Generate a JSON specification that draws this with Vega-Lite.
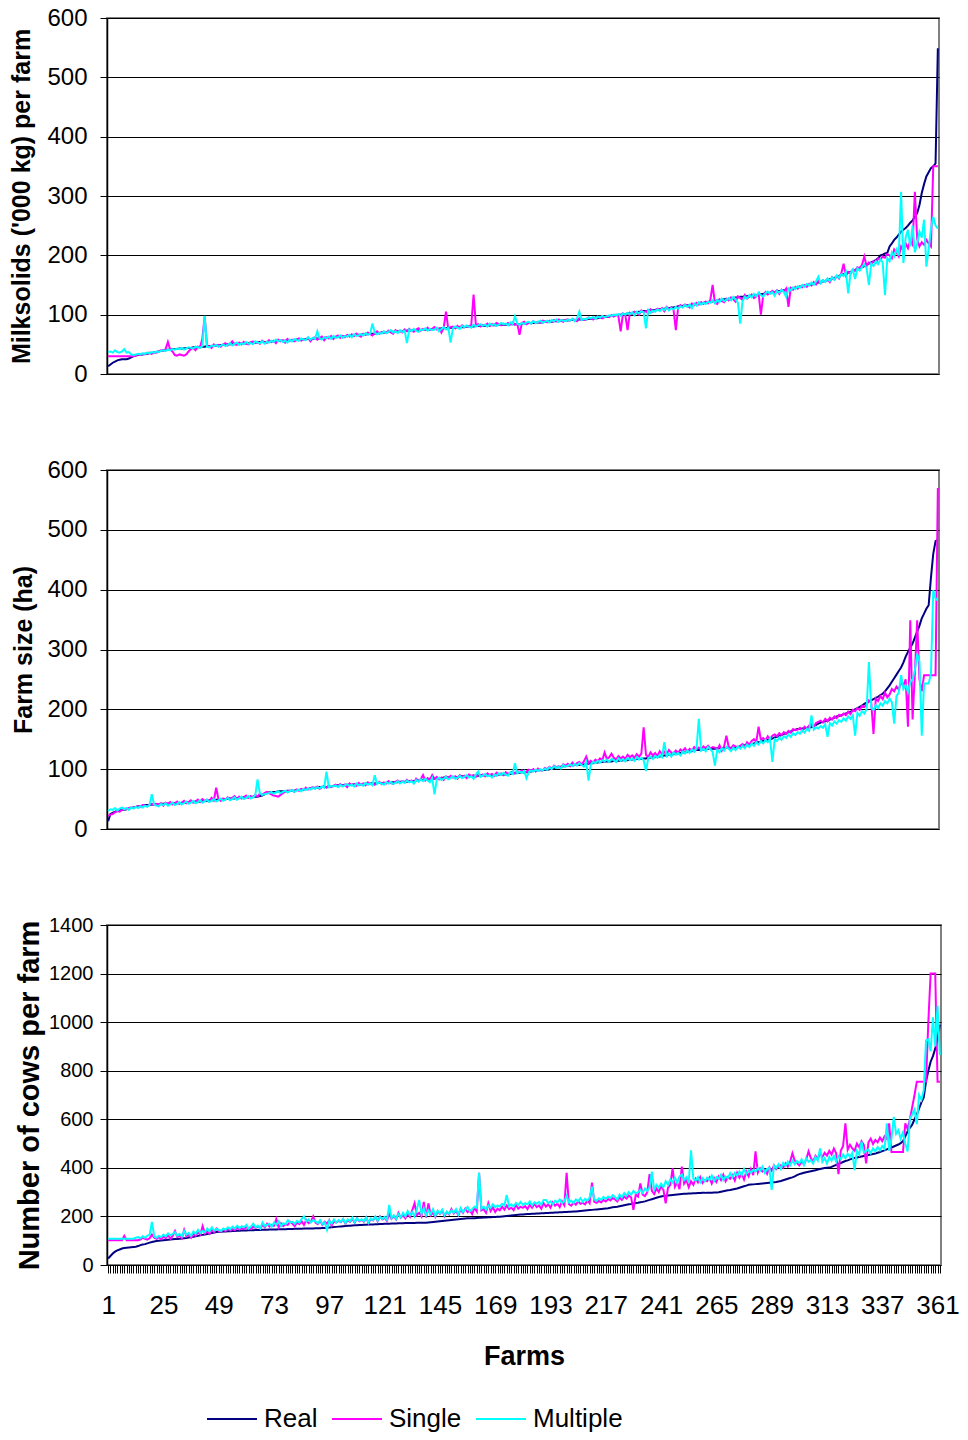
{
"$schema": "https://vega.github.io/schema/vega-lite/v6.json",
"background": "white",
"padding": {"left": 8, "top": 5, "right": 10, "bottom": 5},
"spacing": 96,
"bounds": "flush",
"config": {
 "font": "Liberation Sans",
 "view": {"stroke": "#808080", "strokeWidth": 2},
 "axis": {"labelFont": "Liberation Sans", "titleFont": "Liberation Sans", "labelColor": "#000", "titleColor": "#000", "titleFontWeight": "bold", "domainColor": "#000", "domainWidth": 1.5, "tickColor": "#000", "gridColor": "#000", "gridWidth": 1, "gridOpacity": 1}
},
"resolve": {"scale": {"x": "independent", "y": "independent", "color": "independent"}, "legend": {"color": "independent"}},
"data": {"values": [
{"f":1,"a":13,"b":30,"c":37,"d":13,"e":22,"g":30,"h":27,"i":102,"j":108},
{"f":2,"a":16,"b":30,"c":38,"d":25,"e":24,"g":33,"h":37,"i":102,"j":108},
{"f":3,"a":19,"b":30,"c":36,"d":27,"e":25,"g":32,"h":47,"i":102,"j":108},
{"f":4,"a":21,"b":30,"c":40,"d":29,"e":28,"g":35,"h":55,"i":102,"j":108},
{"f":5,"a":23,"b":30,"c":37,"d":30,"e":30,"g":31,"h":60,"i":102,"j":108},
{"f":6,"a":24,"b":30,"c":36,"d":31,"e":29,"g":34,"h":64,"i":102,"j":108},
{"f":7,"a":25,"b":30,"c":38,"d":32,"e":32,"g":36,"h":68,"i":102,"j":108},
{"f":8,"a":25,"b":30,"c":42,"d":32,"e":34,"g":33,"h":70,"i":120,"j":108},
{"f":9,"a":25,"b":30,"c":36,"d":33,"e":33,"g":35,"h":71,"i":102,"j":108},
{"f":10,"a":26,"b":30,"c":37,"d":34,"e":35,"g":32,"h":72,"i":102,"j":108},
{"f":11,"a":28,"b":30,"c":33,"d":35,"e":36,"g":36,"h":73,"i":102,"j":108},
{"f":12,"a":30,"b":30,"c":32,"d":36,"e":35,"g":34,"h":74,"i":102,"j":108},
{"f":13,"a":31,"b":31,"c":33,"d":37,"e":37,"g":37,"h":75,"i":102,"j":112},
{"f":14,"a":32,"b":33,"c":34,"d":38,"e":38,"g":35,"h":78,"i":102,"j":115},
{"f":15,"a":33,"b":32,"c":33,"d":38,"e":37,"g":38,"h":82,"i":105,"j":110},
{"f":16,"a":33,"b":34,"c":35,"d":39,"e":40,"g":36,"h":84,"i":112,"j":118},
{"f":17,"a":34,"b":33,"c":34,"d":40,"e":39,"g":39,"h":86,"i":108,"j":112},
{"f":18,"a":34,"b":35,"c":36,"d":40,"e":38,"g":37,"h":89,"i":104,"j":120},
{"f":19,"a":35,"b":36,"c":35,"d":40,"e":41,"g":40,"h":92,"i":110,"j":125},
{"f":20,"a":35,"b":34,"c":37,"d":41,"e":42,"g":58,"h":95,"i":125,"j":177},
{"f":21,"a":36,"b":37,"c":36,"d":41,"e":40,"g":41,"h":97,"i":112,"j":118},
{"f":22,"a":37,"b":36,"c":38,"d":41,"e":42,"g":39,"h":99,"i":108,"j":112},
{"f":23,"a":38,"b":38,"c":37,"d":41,"e":41,"g":38,"h":100,"i":115,"j":120},
{"f":24,"a":39,"b":40,"c":39,"d":42,"e":43,"g":42,"h":101,"i":106,"j":115},
{"f":25,"a":40,"b":39,"c":40,"d":42,"e":39,"g":40,"h":102,"i":118,"j":125},
{"f":26,"a":40,"b":42,"c":39,"d":42,"e":44,"g":43,"h":103,"i":110,"j":118},
{"f":27,"a":41,"b":54,"c":41,"d":42,"e":42,"g":39,"h":104,"i":125,"j":130},
{"f":28,"a":41,"b":41,"c":40,"d":42,"e":45,"g":41,"h":105,"i":108,"j":122},
{"f":29,"a":42,"b":38,"c":42,"d":43,"e":41,"g":44,"h":106,"i":120,"j":128},
{"f":30,"a":42,"b":32,"c":41,"d":43,"e":43,"g":40,"h":107,"i":140,"j":135},
{"f":31,"a":42,"b":31,"c":43,"d":43,"e":46,"g":42,"h":107,"i":115,"j":120},
{"f":32,"a":43,"b":33,"c":42,"d":43,"e":42,"g":45,"h":108,"i":122,"j":128},
{"f":33,"a":43,"b":32,"c":44,"d":44,"e":44,"g":41,"h":109,"i":110,"j":118},
{"f":34,"a":43,"b":31,"c":41,"d":44,"e":47,"g":43,"h":110,"i":145,"j":140},
{"f":35,"a":44,"b":33,"c":43,"d":44,"e":43,"g":46,"h":111,"i":118,"j":125},
{"f":36,"a":44,"b":38,"c":45,"d":45,"e":45,"g":42,"h":113,"i":125,"j":132},
{"f":37,"a":44,"b":42,"c":44,"d":45,"e":48,"g":44,"h":115,"i":112,"j":120},
{"f":38,"a":45,"b":44,"c":43,"d":45,"e":44,"g":47,"h":116,"i":128,"j":138},
{"f":39,"a":45,"b":40,"c":46,"d":46,"e":46,"g":43,"h":118,"i":120,"j":128},
{"f":40,"a":45,"b":46,"c":45,"d":46,"e":49,"g":45,"h":120,"i":135,"j":145},
{"f":41,"a":46,"b":45,"c":44,"d":46,"e":45,"g":48,"h":122,"i":125,"j":132},
{"f":42,"a":46,"b":60,"c":47,"d":47,"e":50,"g":44,"h":124,"i":160,"j":140},
{"f":43,"a":46,"b":97,"c":98,"d":47,"e":47,"g":46,"h":126,"i":130,"j":135},
{"f":44,"a":47,"b":48,"c":46,"d":47,"e":49,"g":49,"h":128,"i":138,"j":150},
{"f":45,"a":47,"b":46,"c":45,"d":48,"e":46,"g":45,"h":130,"i":128,"j":138},
{"f":46,"a":47,"b":44,"c":48,"d":48,"e":52,"g":47,"h":132,"i":145,"j":155},
{"f":47,"a":48,"b":50,"c":47,"d":48,"e":48,"g":50,"h":134,"i":135,"j":142},
{"f":48,"a":48,"b":47,"c":49,"d":49,"e":69,"g":46,"h":136,"i":150,"j":148},
{"f":49,"a":48,"b":49,"c":46,"d":49,"e":50,"g":48,"h":137,"i":140,"j":145},
{"f":50,"a":49,"b":46,"c":48,"d":49,"e":47,"g":51,"h":137,"i":138,"j":140},
{"f":51,"a":49,"b":50,"c":50,"d":50,"e":51,"g":47,"h":138,"i":145,"j":150},
{"f":52,"a":49,"b":52,"c":47,"d":50,"e":49,"g":49,"h":138,"i":140,"j":145},
{"f":53,"a":50,"b":48,"c":49,"d":50,"e":53,"g":52,"h":139,"i":150,"j":155},
{"f":54,"a":50,"b":51,"c":52,"d":51,"e":50,"g":48,"h":139,"i":142,"j":148},
{"f":55,"a":50,"b":55,"c":48,"d":51,"e":52,"g":50,"h":140,"i":148,"j":158},
{"f":56,"a":51,"b":50,"c":51,"d":51,"e":55,"g":53,"h":140,"i":143,"j":150},
{"f":57,"a":51,"b":49,"c":53,"d":52,"e":50,"g":49,"h":141,"i":155,"j":162},
{"f":58,"a":51,"b":53,"c":49,"d":52,"e":54,"g":51,"h":141,"i":146,"j":152},
{"f":59,"a":52,"b":50,"c":52,"d":52,"e":51,"g":54,"h":142,"i":152,"j":160},
{"f":60,"a":52,"b":54,"c":50,"d":53,"e":53,"g":50,"h":142,"i":148,"j":155},
{"f":61,"a":52,"b":51,"c":54,"d":53,"e":56,"g":52,"h":142,"i":156,"j":165},
{"f":62,"a":52,"b":50,"c":51,"d":53,"e":52,"g":55,"h":143,"i":150,"j":150},
{"f":63,"a":53,"b":53,"c":52,"d":54,"e":55,"g":51,"h":143,"i":148,"j":158},
{"f":64,"a":53,"b":55,"c":50,"d":54,"e":53,"g":53,"h":143,"i":158,"j":170},
{"f":65,"a":53,"b":52,"c":55,"d":54,"e":57,"g":56,"h":144,"i":152,"j":155},
{"f":66,"a":53,"b":54,"c":53,"d":54,"e":54,"g":83,"h":144,"i":160,"j":162},
{"f":67,"a":54,"b":51,"c":52,"d":55,"e":59,"g":60,"h":144,"i":150,"j":150},
{"f":68,"a":54,"b":56,"c":55,"d":56,"e":57,"g":57,"h":145,"i":165,"j":175},
{"f":69,"a":54,"b":53,"c":51,"d":58,"e":60,"g":58,"h":145,"i":155,"j":160},
{"f":70,"a":54,"b":52,"c":54,"d":61,"e":62,"g":59,"h":145,"i":170,"j":165},
{"f":71,"a":55,"b":57,"c":53,"d":61,"e":60,"g":60,"h":146,"i":158,"j":170},
{"f":72,"a":55,"b":54,"c":56,"d":62,"e":58,"g":62,"h":146,"i":165,"j":158},
{"f":73,"a":55,"b":56,"c":54,"d":62,"e":56,"g":59,"h":146,"i":162,"j":175},
{"f":74,"a":55,"b":52,"c":58,"d":62,"e":55,"g":61,"h":146,"i":190,"j":165},
{"f":75,"a":56,"b":58,"c":55,"d":63,"e":54,"g":63,"h":147,"i":155,"j":180},
{"f":76,"a":56,"b":55,"c":57,"d":63,"e":57,"g":60,"h":147,"i":172,"j":160},
{"f":77,"a":56,"b":57,"c":54,"d":63,"e":60,"g":62,"h":147,"i":160,"j":172},
{"f":78,"a":56,"b":53,"c":56,"d":63,"e":62,"g":64,"h":147,"i":168,"j":168},
{"f":79,"a":57,"b":59,"c":53,"d":64,"e":64,"g":61,"h":148,"i":165,"j":185},
{"f":80,"a":57,"b":56,"c":58,"d":64,"e":63,"g":63,"h":148,"i":178,"j":175},
{"f":81,"a":57,"b":58,"c":55,"d":64,"e":65,"g":65,"h":148,"i":170,"j":178},
{"f":82,"a":57,"b":55,"c":59,"d":64,"e":62,"g":62,"h":149,"i":160,"j":170},
{"f":83,"a":58,"b":57,"c":57,"d":65,"e":66,"g":64,"h":149,"i":175,"j":182},
{"f":84,"a":58,"b":60,"c":56,"d":65,"e":64,"g":66,"h":149,"i":168,"j":175},
{"f":85,"a":58,"b":56,"c":60,"d":66,"e":67,"g":63,"h":149,"i":180,"j":190},
{"f":86,"a":58,"b":59,"c":58,"d":66,"e":65,"g":67,"h":150,"i":165,"j":200},
{"f":87,"a":59,"b":58,"c":57,"d":67,"e":69,"g":65,"h":150,"i":185,"j":180},
{"f":88,"a":59,"b":61,"c":62,"d":67,"e":66,"g":68,"h":150,"i":172,"j":188},
{"f":89,"a":59,"b":55,"c":58,"d":68,"e":68,"g":66,"h":150,"i":178,"j":175},
{"f":90,"a":59,"b":60,"c":61,"d":68,"e":70,"g":69,"h":150,"i":200,"j":185},
{"f":91,"a":60,"b":62,"c":59,"d":69,"e":68,"g":67,"h":151,"i":175,"j":180},
{"f":92,"a":60,"b":58,"c":72,"d":69,"e":71,"g":70,"h":151,"i":168,"j":172},
{"f":93,"a":60,"b":61,"c":60,"d":70,"e":67,"g":68,"h":151,"i":182,"j":185},
{"f":94,"a":60,"b":63,"c":58,"d":70,"e":70,"g":71,"h":152,"i":165,"j":168},
{"f":95,"a":61,"b":57,"c":62,"d":70,"e":72,"g":69,"h":152,"i":178,"j":175},
{"f":96,"a":61,"b":62,"c":60,"d":70,"e":69,"g":96,"h":153,"i":170,"j":145},
{"f":97,"a":61,"b":60,"c":63,"d":71,"e":73,"g":70,"h":154,"i":185,"j":182},
{"f":98,"a":62,"b":64,"c":59,"d":71,"e":70,"g":72,"h":155,"i":162,"j":170},
{"f":99,"a":62,"b":59,"c":64,"d":72,"e":72,"g":71,"h":156,"i":180,"j":188},
{"f":100,"a":62,"b":63,"c":61,"d":73,"e":74,"g":73,"h":157,"i":175,"j":175},
{"f":101,"a":63,"b":65,"c":62,"d":73,"e":71,"g":70,"h":158,"i":182,"j":185},
{"f":102,"a":63,"b":61,"c":65,"d":73,"e":75,"g":74,"h":159,"i":176,"j":178},
{"f":103,"a":63,"b":64,"c":61,"d":73,"e":72,"g":71,"h":160,"i":188,"j":190},
{"f":104,"a":64,"b":62,"c":64,"d":74,"e":74,"g":73,"h":161,"i":170,"j":172},
{"f":105,"a":64,"b":66,"c":63,"d":74,"e":70,"g":75,"h":162,"i":185,"j":188},
{"f":106,"a":64,"b":63,"c":66,"d":74,"e":76,"g":72,"h":162,"i":178,"j":180},
{"f":107,"a":65,"b":67,"c":62,"d":74,"e":73,"g":74,"h":163,"i":190,"j":195},
{"f":108,"a":65,"b":64,"c":67,"d":75,"e":75,"g":71,"h":164,"i":174,"j":176},
{"f":109,"a":66,"b":68,"c":64,"d":75,"e":72,"g":76,"h":164,"i":192,"j":192},
{"f":110,"a":66,"b":65,"c":65,"d":75,"e":77,"g":73,"h":165,"i":180,"j":182},
{"f":111,"a":66,"b":63,"c":67,"d":75,"e":74,"g":75,"h":165,"i":186,"j":188},
{"f":112,"a":67,"b":68,"c":65,"d":75,"e":76,"g":72,"h":166,"i":178,"j":180},
{"f":113,"a":67,"b":66,"c":69,"d":76,"e":73,"g":77,"h":166,"i":195,"j":196},
{"f":114,"a":67,"b":70,"c":66,"d":76,"e":78,"g":74,"h":167,"i":172,"j":175},
{"f":115,"a":68,"b":67,"c":68,"d":76,"e":75,"g":76,"h":167,"i":190,"j":192},
{"f":116,"a":68,"b":65,"c":85,"d":76,"e":77,"g":73,"h":167,"i":184,"j":185},
{"f":117,"a":68,"b":69,"c":70,"d":76,"e":74,"g":90,"h":168,"i":198,"j":200},
{"f":118,"a":69,"b":72,"c":67,"d":77,"e":76,"g":75,"h":168,"i":180,"j":182},
{"f":119,"a":69,"b":68,"c":69,"d":77,"e":79,"g":78,"h":169,"i":200,"j":198},
{"f":120,"a":70,"b":70,"c":68,"d":77,"e":75,"g":76,"h":169,"i":188,"j":190},
{"f":121,"a":70,"b":71,"c":72,"d":77,"e":78,"g":74,"h":170,"i":195,"j":198},
{"f":122,"a":70,"b":69,"c":69,"d":77,"e":76,"g":78,"h":170,"i":182,"j":186},
{"f":123,"a":71,"b":73,"c":71,"d":78,"e":80,"g":76,"h":170,"i":210,"j":247},
{"f":124,"a":71,"b":70,"c":74,"d":78,"e":77,"g":79,"h":171,"i":190,"j":192},
{"f":125,"a":71,"b":68,"c":70,"d":78,"e":75,"g":75,"h":171,"i":200,"j":205},
{"f":126,"a":72,"b":74,"c":72,"d":78,"e":79,"g":77,"h":171,"i":188,"j":190},
{"f":127,"a":72,"b":71,"c":69,"d":78,"e":81,"g":80,"h":172,"i":215,"j":210},
{"f":128,"a":72,"b":73,"c":74,"d":79,"e":77,"g":76,"h":172,"i":195,"j":196},
{"f":129,"a":72,"b":70,"c":71,"d":79,"e":80,"g":79,"h":172,"i":205,"j":215},
{"f":130,"a":73,"b":75,"c":73,"d":79,"e":78,"g":77,"h":173,"i":192,"j":200},
{"f":131,"a":73,"b":72,"c":52,"d":79,"e":82,"g":81,"h":173,"i":210,"j":222},
{"f":132,"a":73,"b":76,"c":75,"d":80,"e":79,"g":78,"h":173,"i":198,"j":205},
{"f":133,"a":73,"b":73,"c":72,"d":80,"e":81,"g":80,"h":173,"i":225,"j":218},
{"f":134,"a":74,"b":71,"c":76,"d":80,"e":77,"g":76,"h":173,"i":254,"j":200},
{"f":135,"a":74,"b":75,"c":73,"d":81,"e":84,"g":82,"h":174,"i":205,"j":230},
{"f":136,"a":74,"b":77,"c":71,"d":81,"e":80,"g":79,"h":174,"i":215,"j":268},
{"f":137,"a":74,"b":73,"c":75,"d":82,"e":83,"g":83,"h":174,"i":200,"j":210},
{"f":138,"a":75,"b":76,"c":74,"d":82,"e":90,"g":80,"h":174,"i":260,"j":235},
{"f":139,"a":75,"b":74,"c":77,"d":83,"e":81,"g":84,"h":174,"i":195,"j":205},
{"f":140,"a":75,"b":78,"c":73,"d":83,"e":85,"g":81,"h":175,"i":254,"j":225},
{"f":141,"a":75,"b":74,"c":76,"d":84,"e":82,"g":78,"h":176,"i":205,"j":210},
{"f":142,"a":76,"b":76,"c":74,"d":84,"e":90,"g":85,"h":177,"i":215,"j":230},
{"f":143,"a":76,"b":79,"c":75,"d":84,"e":84,"g":58,"h":178,"i":198,"j":202},
{"f":144,"a":76,"b":75,"c":78,"d":85,"e":87,"g":83,"h":179,"i":220,"j":224},
{"f":145,"a":76,"b":77,"c":72,"d":85,"e":83,"g":86,"h":180,"i":210,"j":212},
{"f":146,"a":77,"b":70,"c":76,"d":85,"e":86,"g":82,"h":181,"i":225,"j":228},
{"f":147,"a":77,"b":78,"c":79,"d":86,"e":82,"g":84,"h":182,"i":200,"j":205},
{"f":148,"a":77,"b":105,"c":75,"d":86,"e":88,"g":87,"h":183,"i":218,"j":220},
{"f":149,"a":78,"b":76,"c":78,"d":86,"e":85,"g":83,"h":184,"i":208,"j":210},
{"f":150,"a":78,"b":79,"c":53,"d":87,"e":89,"g":85,"h":185,"i":230,"j":225},
{"f":151,"a":78,"b":80,"c":77,"d":87,"e":86,"g":88,"h":186,"i":212,"j":215},
{"f":152,"a":78,"b":77,"c":80,"d":87,"e":88,"g":84,"h":187,"i":222,"j":230},
{"f":153,"a":79,"b":81,"c":78,"d":87,"e":84,"g":86,"h":188,"i":205,"j":208},
{"f":154,"a":79,"b":78,"c":76,"d":88,"e":90,"g":89,"h":189,"i":228,"j":235},
{"f":155,"a":79,"b":82,"c":81,"d":88,"e":87,"g":85,"h":190,"i":215,"j":218},
{"f":156,"a":79,"b":79,"c":79,"d":88,"e":89,"g":87,"h":191,"i":232,"j":228},
{"f":157,"a":80,"b":81,"c":82,"d":88,"e":85,"g":90,"h":192,"i":218,"j":239},
{"f":158,"a":80,"b":80,"c":80,"d":89,"e":91,"g":86,"h":192,"i":225,"j":222},
{"f":159,"a":80,"b":83,"c":78,"d":89,"e":88,"g":88,"h":193,"i":210,"j":230},
{"f":160,"a":80,"b":134,"c":83,"d":89,"e":90,"g":84,"h":193,"i":235,"j":240},
{"f":161,"a":81,"b":82,"c":80,"d":89,"e":87,"g":91,"h":194,"i":220,"j":235},
{"f":162,"a":81,"b":84,"c":82,"d":89,"e":92,"g":96,"h":195,"i":380,"j":380},
{"f":163,"a":81,"b":80,"c":84,"d":90,"e":89,"g":87,"h":195,"i":225,"j":232},
{"f":164,"a":81,"b":83,"c":81,"d":90,"e":91,"g":89,"h":196,"i":230,"j":240},
{"f":165,"a":81,"b":82,"c":83,"d":90,"e":88,"g":92,"h":196,"i":215,"j":228},
{"f":166,"a":82,"b":85,"c":80,"d":90,"e":93,"g":88,"h":197,"i":254,"j":245},
{"f":167,"a":82,"b":81,"c":85,"d":90,"e":90,"g":90,"h":197,"i":222,"j":235},
{"f":168,"a":82,"b":84,"c":82,"d":90,"e":92,"g":86,"h":198,"i":238,"j":250},
{"f":169,"a":82,"b":83,"c":84,"d":90,"e":89,"g":91,"h":198,"i":218,"j":238},
{"f":170,"a":82,"b":86,"c":81,"d":90,"e":94,"g":89,"h":199,"i":232,"j":245},
{"f":171,"a":83,"b":84,"c":83,"d":91,"e":91,"g":93,"h":199,"i":225,"j":240},
{"f":172,"a":83,"b":82,"c":86,"d":91,"e":93,"g":90,"h":200,"i":240,"j":252},
{"f":173,"a":83,"b":85,"c":84,"d":91,"e":90,"g":94,"h":201,"i":228,"j":245},
{"f":174,"a":83,"b":83,"c":85,"d":91,"e":95,"g":91,"h":202,"i":245,"j":288},
{"f":175,"a":83,"b":86,"c":82,"d":92,"e":92,"g":89,"h":203,"i":230,"j":242},
{"f":176,"a":84,"b":84,"c":87,"d":92,"e":94,"g":95,"h":204,"i":236,"j":250},
{"f":177,"a":84,"b":87,"c":84,"d":93,"e":96,"g":92,"h":205,"i":226,"j":240},
{"f":178,"a":84,"b":83,"c":97,"d":93,"e":93,"g":110,"h":206,"i":248,"j":256},
{"f":179,"a":84,"b":85,"c":85,"d":94,"e":97,"g":93,"h":207,"i":232,"j":246},
{"f":180,"a":84,"b":66,"c":83,"d":94,"e":95,"g":96,"h":208,"i":240,"j":260},
{"f":181,"a":85,"b":86,"c":86,"d":95,"e":98,"g":94,"h":208,"i":235,"j":248},
{"f":182,"a":85,"b":88,"c":84,"d":95,"e":94,"g":97,"h":209,"i":242,"j":255},
{"f":183,"a":85,"b":84,"c":87,"d":95,"e":96,"g":85,"h":210,"i":230,"j":250},
{"f":184,"a":86,"b":87,"c":88,"d":96,"e":99,"g":95,"h":210,"i":248,"j":262},
{"f":185,"a":86,"b":85,"c":85,"d":96,"e":97,"g":98,"h":211,"i":236,"j":245},
{"f":186,"a":86,"b":89,"c":89,"d":97,"e":100,"g":96,"h":211,"i":252,"j":258},
{"f":187,"a":86,"b":86,"c":86,"d":97,"e":96,"g":99,"h":212,"i":238,"j":252},
{"f":188,"a":87,"b":88,"c":88,"d":98,"e":101,"g":97,"h":212,"i":245,"j":260},
{"f":189,"a":87,"b":87,"c":90,"d":98,"e":99,"g":100,"h":213,"i":232,"j":248},
{"f":190,"a":87,"b":90,"c":87,"d":98,"e":98,"g":98,"h":213,"i":255,"j":268},
{"f":191,"a":88,"b":89,"c":88,"d":99,"e":102,"g":101,"h":214,"i":240,"j":268},
{"f":192,"a":88,"b":87,"c":90,"d":99,"e":100,"g":99,"h":214,"i":250,"j":255},
{"f":193,"a":88,"b":90,"c":87,"d":100,"e":104,"g":103,"h":215,"i":236,"j":262},
{"f":194,"a":88,"b":88,"c":91,"d":101,"e":101,"g":100,"h":215,"i":258,"j":250},
{"f":195,"a":89,"b":91,"c":89,"d":102,"e":106,"g":105,"h":216,"i":244,"j":265},
{"f":196,"a":89,"b":89,"c":92,"d":103,"e":103,"g":102,"h":216,"i":252,"j":258},
{"f":197,"a":89,"b":92,"c":88,"d":103,"e":105,"g":104,"h":217,"i":238,"j":270},
{"f":198,"a":90,"b":90,"c":91,"d":104,"e":102,"g":101,"h":217,"i":262,"j":255},
{"f":199,"a":90,"b":88,"c":90,"d":105,"e":108,"g":107,"h":218,"i":246,"j":262},
{"f":200,"a":90,"b":91,"c":89,"d":105,"e":106,"g":104,"h":218,"i":380,"j":285},
{"f":201,"a":90,"b":92,"c":92,"d":106,"e":109,"g":106,"h":219,"i":250,"j":258},
{"f":202,"a":91,"b":90,"c":90,"d":106,"e":105,"g":108,"h":219,"i":244,"j":265},
{"f":203,"a":91,"b":93,"c":93,"d":106,"e":111,"g":105,"h":220,"i":258,"j":255},
{"f":204,"a":91,"b":91,"c":89,"d":107,"e":107,"g":109,"h":220,"i":248,"j":270},
{"f":205,"a":91,"b":89,"c":94,"d":107,"e":110,"g":106,"h":221,"i":262,"j":262},
{"f":206,"a":92,"b":94,"c":105,"d":107,"e":112,"g":110,"h":222,"i":252,"j":275},
{"f":207,"a":92,"b":92,"c":91,"d":108,"e":108,"g":107,"h":223,"i":256,"j":260},
{"f":208,"a":92,"b":91,"c":93,"d":108,"e":113,"g":104,"h":224,"i":250,"j":272},
{"f":209,"a":92,"b":93,"c":92,"d":109,"e":121,"g":112,"h":225,"i":266,"j":265},
{"f":210,"a":93,"b":95,"c":95,"d":109,"e":110,"g":81,"h":226,"i":254,"j":278},
{"f":211,"a":93,"b":94,"c":94,"d":110,"e":114,"g":108,"h":227,"i":339,"j":322},
{"f":212,"a":93,"b":92,"c":96,"d":110,"e":111,"g":112,"h":228,"i":260,"j":270},
{"f":213,"a":94,"b":96,"c":93,"d":111,"e":116,"g":110,"h":229,"i":256,"j":265},
{"f":214,"a":94,"b":95,"c":97,"d":111,"e":113,"g":114,"h":230,"i":264,"j":275},
{"f":215,"a":95,"b":97,"c":95,"d":112,"e":118,"g":111,"h":231,"i":258,"j":268},
{"f":216,"a":95,"b":94,"c":98,"d":112,"e":115,"g":115,"h":232,"i":268,"j":280},
{"f":217,"a":96,"b":96,"c":96,"d":113,"e":128,"g":113,"h":233,"i":262,"j":272},
{"f":218,"a":96,"b":98,"c":97,"d":113,"e":117,"g":116,"h":234,"i":272,"j":282},
{"f":219,"a":97,"b":96,"c":99,"d":113,"e":120,"g":112,"h":236,"i":266,"j":276},
{"f":220,"a":98,"b":99,"c":98,"d":113,"e":126,"g":117,"h":238,"i":276,"j":288},
{"f":221,"a":98,"b":97,"c":100,"d":114,"e":119,"g":115,"h":239,"i":270,"j":280},
{"f":222,"a":99,"b":100,"c":99,"d":114,"e":116,"g":112,"h":240,"i":262,"j":270},
{"f":223,"a":100,"b":98,"c":101,"d":114,"e":122,"g":118,"h":242,"i":278,"j":290},
{"f":224,"a":100,"b":72,"c":98,"d":114,"e":118,"g":114,"h":244,"i":268,"j":278},
{"f":225,"a":101,"b":102,"c":102,"d":115,"e":121,"g":117,"h":246,"i":282,"j":296},
{"f":226,"a":101,"b":100,"c":100,"d":115,"e":117,"g":113,"h":248,"i":274,"j":285},
{"f":227,"a":102,"b":74,"c":103,"d":115,"e":124,"g":119,"h":250,"i":286,"j":300},
{"f":228,"a":103,"b":103,"c":101,"d":116,"e":120,"g":115,"h":251,"i":278,"j":290},
{"f":229,"a":103,"b":101,"c":104,"d":116,"e":123,"g":118,"h":253,"i":227,"j":305},
{"f":230,"a":104,"b":105,"c":99,"d":116,"e":119,"g":114,"h":255,"i":290,"j":295},
{"f":231,"a":104,"b":103,"c":105,"d":117,"e":125,"g":120,"h":256,"i":282,"j":300},
{"f":232,"a":105,"b":100,"c":102,"d":117,"e":121,"g":116,"h":258,"i":336,"j":310},
{"f":233,"a":105,"b":107,"c":106,"d":117,"e":126,"g":119,"h":260,"i":290,"j":298},
{"f":234,"a":106,"b":104,"c":104,"d":118,"e":170,"g":115,"h":262,"i":284,"j":315},
{"f":235,"a":106,"b":106,"c":77,"d":118,"e":124,"g":97,"h":265,"i":300,"j":305},
{"f":236,"a":107,"b":102,"c":108,"d":119,"e":120,"g":118,"h":268,"i":374,"j":320},
{"f":237,"a":107,"b":109,"c":103,"d":119,"e":128,"g":121,"h":271,"i":305,"j":384},
{"f":238,"a":108,"b":105,"c":107,"d":120,"e":123,"g":117,"h":274,"i":292,"j":310},
{"f":239,"a":108,"b":107,"c":105,"d":120,"e":127,"g":122,"h":277,"i":315,"j":330},
{"f":240,"a":109,"b":110,"c":109,"d":121,"e":122,"g":119,"h":280,"i":300,"j":318},
{"f":241,"a":109,"b":108,"c":106,"d":121,"e":130,"g":124,"h":282,"i":325,"j":335},
{"f":242,"a":110,"b":111,"c":110,"d":122,"e":125,"g":120,"h":284,"i":310,"j":320},
{"f":243,"a":110,"b":106,"c":108,"d":123,"e":129,"g":145,"h":285,"i":254,"j":345},
{"f":244,"a":111,"b":113,"c":112,"d":123,"e":124,"g":122,"h":286,"i":318,"j":330},
{"f":245,"a":111,"b":109,"c":107,"d":124,"e":132,"g":126,"h":287,"i":330,"j":352},
{"f":246,"a":112,"b":112,"c":111,"d":124,"e":128,"g":121,"h":288,"i":398,"j":340},
{"f":247,"a":112,"b":108,"c":109,"d":125,"e":126,"g":128,"h":289,"i":322,"j":360},
{"f":248,"a":113,"b":74,"c":113,"d":126,"e":131,"g":124,"h":290,"i":340,"j":338},
{"f":249,"a":114,"b":112,"c":110,"d":126,"e":127,"g":127,"h":291,"i":312,"j":365},
{"f":250,"a":114,"b":116,"c":114,"d":127,"e":133,"g":123,"h":292,"i":405,"j":372},
{"f":251,"a":115,"b":113,"c":112,"d":128,"e":130,"g":129,"h":293,"i":335,"j":350},
{"f":252,"a":115,"b":117,"c":116,"d":128,"e":135,"g":126,"h":293,"i":350,"j":362},
{"f":253,"a":116,"b":115,"c":113,"d":129,"e":129,"g":131,"h":294,"i":320,"j":340},
{"f":254,"a":116,"b":112,"c":117,"d":130,"e":134,"g":127,"h":294,"i":345,"j":472},
{"f":255,"a":117,"b":119,"c":111,"d":130,"e":131,"g":133,"h":295,"i":330,"j":355},
{"f":256,"a":117,"b":116,"c":119,"d":131,"e":137,"g":129,"h":295,"i":355,"j":348},
{"f":257,"a":118,"b":120,"c":115,"d":132,"e":133,"g":135,"h":296,"i":340,"j":362},
{"f":258,"a":119,"b":117,"c":121,"d":132,"e":136,"g":184,"h":296,"i":362,"j":340},
{"f":259,"a":119,"b":121,"c":117,"d":133,"e":132,"g":131,"h":297,"i":338,"j":358},
{"f":260,"a":120,"b":118,"c":120,"d":133,"e":138,"g":134,"h":297,"i":350,"j":345},
{"f":261,"a":121,"b":122,"c":118,"d":133,"e":135,"g":130,"h":298,"i":345,"j":360},
{"f":262,"a":121,"b":119,"c":122,"d":134,"e":139,"g":137,"h":298,"i":360,"j":350},
{"f":263,"a":122,"b":125,"c":120,"d":134,"e":134,"g":133,"h":298,"i":335,"j":368},
{"f":264,"a":122,"b":150,"c":124,"d":134,"e":137,"g":129,"h":299,"i":358,"j":345},
{"f":265,"a":123,"b":120,"c":119,"d":134,"e":136,"g":106,"h":299,"i":342,"j":362},
{"f":266,"a":124,"b":118,"c":125,"d":135,"e":133,"g":132,"h":300,"i":365,"j":355},
{"f":267,"a":124,"b":126,"c":121,"d":135,"e":140,"g":128,"h":302,"i":350,"j":372},
{"f":268,"a":125,"b":123,"c":127,"d":135,"e":131,"g":135,"h":304,"i":372,"j":350},
{"f":269,"a":126,"b":121,"c":123,"d":135,"e":138,"g":131,"h":306,"i":345,"j":365},
{"f":270,"a":126,"b":127,"c":125,"d":136,"e":156,"g":137,"h":308,"i":362,"j":358},
{"f":271,"a":127,"b":124,"c":128,"d":136,"e":137,"g":134,"h":309,"i":355,"j":378},
{"f":272,"a":127,"b":129,"c":124,"d":136,"e":134,"g":130,"h":311,"i":370,"j":362},
{"f":273,"a":128,"b":126,"c":130,"d":136,"e":140,"g":136,"h":313,"i":348,"j":380},
{"f":274,"a":129,"b":122,"c":126,"d":136,"e":138,"g":132,"h":315,"i":380,"j":368},
{"f":275,"a":129,"b":131,"c":120,"d":137,"e":136,"g":138,"h":318,"i":360,"j":385},
{"f":276,"a":130,"b":128,"c":85,"d":138,"e":139,"g":134,"h":321,"i":375,"j":370},
{"f":277,"a":130,"b":125,"c":122,"d":139,"e":142,"g":139,"h":324,"i":352,"j":395},
{"f":278,"a":131,"b":133,"c":130,"d":140,"e":137,"g":135,"h":327,"i":385,"j":375},
{"f":279,"a":131,"b":127,"c":127,"d":141,"e":145,"g":141,"h":330,"i":365,"j":390},
{"f":280,"a":132,"b":130,"c":133,"d":142,"e":141,"g":137,"h":331,"i":395,"j":380},
{"f":281,"a":132,"b":134,"c":129,"d":142,"e":147,"g":143,"h":332,"i":370,"j":392},
{"f":282,"a":133,"b":128,"c":135,"d":143,"e":150,"g":139,"h":333,"i":468,"j":385},
{"f":283,"a":133,"b":131,"c":131,"d":144,"e":145,"g":145,"h":334,"i":380,"j":398},
{"f":284,"a":134,"b":136,"c":137,"d":145,"e":171,"g":141,"h":335,"i":398,"j":388},
{"f":285,"a":135,"b":100,"c":133,"d":146,"e":149,"g":147,"h":336,"i":385,"j":405},
{"f":286,"a":135,"b":132,"c":130,"d":147,"e":152,"g":143,"h":337,"i":392,"j":380},
{"f":287,"a":136,"b":138,"c":136,"d":148,"e":148,"g":149,"h":338,"i":375,"j":395},
{"f":288,"a":136,"b":134,"c":139,"d":149,"e":155,"g":145,"h":339,"i":402,"j":400},
{"f":289,"a":137,"b":136,"c":135,"d":150,"e":150,"g":151,"h":340,"i":388,"j":309},
{"f":290,"a":138,"b":140,"c":138,"d":151,"e":156,"g":112,"h":341,"i":410,"j":410},
{"f":291,"a":138,"b":137,"c":132,"d":153,"e":158,"g":150,"h":342,"i":395,"j":400},
{"f":292,"a":139,"b":141,"c":140,"d":154,"e":155,"g":147,"h":344,"i":405,"j":415},
{"f":293,"a":140,"b":135,"c":137,"d":156,"e":160,"g":153,"h":346,"i":411,"j":395},
{"f":294,"a":140,"b":142,"c":142,"d":157,"e":157,"g":149,"h":349,"i":400,"j":420},
{"f":295,"a":141,"b":139,"c":138,"d":159,"e":162,"g":155,"h":352,"i":418,"j":408},
{"f":296,"a":142,"b":144,"c":130,"d":160,"e":159,"g":152,"h":355,"i":405,"j":425},
{"f":297,"a":143,"b":113,"c":144,"d":162,"e":164,"g":158,"h":358,"i":425,"j":410},
{"f":298,"a":144,"b":145,"c":141,"d":163,"e":161,"g":154,"h":361,"i":460,"j":430},
{"f":299,"a":145,"b":142,"c":146,"d":165,"e":167,"g":160,"h":365,"i":430,"j":415},
{"f":300,"a":145,"b":147,"c":143,"d":166,"e":165,"g":157,"h":370,"i":420,"j":428},
{"f":301,"a":146,"b":144,"c":148,"d":167,"e":166,"g":162,"h":374,"i":410,"j":420},
{"f":302,"a":147,"b":148,"c":145,"d":167,"e":169,"g":159,"h":377,"i":425,"j":435},
{"f":303,"a":148,"b":146,"c":150,"d":168,"e":164,"g":165,"h":380,"i":415,"j":412},
{"f":304,"a":149,"b":150,"c":147,"d":168,"e":171,"g":161,"h":382,"i":435,"j":440},
{"f":305,"a":150,"b":147,"c":152,"d":169,"e":168,"g":167,"h":384,"i":468,"j":425},
{"f":306,"a":150,"b":152,"c":149,"d":170,"e":173,"g":164,"h":386,"i":440,"j":432},
{"f":307,"a":151,"b":149,"c":154,"d":170,"e":175,"g":190,"h":388,"i":425,"j":418},
{"f":308,"a":152,"b":155,"c":150,"d":172,"e":170,"g":166,"h":390,"i":450,"j":445},
{"f":309,"a":153,"b":151,"c":156,"d":174,"e":177,"g":170,"h":393,"i":438,"j":430},
{"f":310,"a":154,"b":157,"c":164,"d":176,"e":179,"g":168,"h":395,"i":460,"j":480},
{"f":311,"a":155,"b":153,"c":153,"d":178,"e":181,"g":172,"h":397,"i":445,"j":425},
{"f":312,"a":156,"b":158,"c":158,"d":179,"e":178,"g":169,"h":399,"i":462,"j":440},
{"f":313,"a":157,"b":156,"c":155,"d":180,"e":184,"g":175,"h":400,"i":450,"j":418},
{"f":314,"a":158,"b":160,"c":161,"d":181,"e":180,"g":154,"h":401,"i":470,"j":445},
{"f":315,"a":160,"b":155,"c":157,"d":183,"e":186,"g":177,"h":404,"i":455,"j":430},
{"f":316,"a":161,"b":163,"c":163,"d":184,"e":183,"g":173,"h":408,"i":480,"j":450},
{"f":317,"a":162,"b":159,"c":159,"d":186,"e":188,"g":180,"h":412,"i":460,"j":425},
{"f":318,"a":164,"b":165,"c":166,"d":188,"e":185,"g":176,"h":416,"i":374,"j":448},
{"f":319,"a":165,"b":161,"c":162,"d":189,"e":191,"g":182,"h":420,"i":470,"j":435},
{"f":320,"a":167,"b":170,"c":168,"d":190,"e":189,"g":179,"h":424,"i":490,"j":455},
{"f":321,"a":168,"b":186,"c":165,"d":192,"e":193,"g":185,"h":428,"i":583,"j":440},
{"f":322,"a":169,"b":166,"c":172,"d":193,"e":190,"g":181,"h":431,"i":475,"j":458},
{"f":323,"a":171,"b":172,"c":136,"d":195,"e":196,"g":188,"h":435,"i":495,"j":445},
{"f":324,"a":172,"b":169,"c":170,"d":196,"e":192,"g":184,"h":438,"i":480,"j":462},
{"f":325,"a":174,"b":176,"c":176,"d":198,"e":199,"g":190,"h":441,"i":470,"j":391},
{"f":326,"a":175,"b":174,"c":160,"d":200,"e":197,"g":156,"h":443,"i":500,"j":470},
{"f":327,"a":177,"b":180,"c":178,"d":202,"e":202,"g":194,"h":445,"i":485,"j":455},
{"f":328,"a":179,"b":178,"c":174,"d":204,"e":199,"g":189,"h":447,"i":510,"j":508},
{"f":329,"a":180,"b":184,"c":180,"d":206,"e":206,"g":197,"h":449,"i":495,"j":462},
{"f":330,"a":182,"b":198,"c":185,"d":209,"e":204,"g":193,"h":451,"i":418,"j":470},
{"f":331,"a":184,"b":182,"c":178,"d":211,"e":208,"g":200,"h":453,"i":505,"j":475},
{"f":332,"a":186,"b":188,"c":150,"d":213,"e":215,"g":279,"h":455,"i":520,"j":460},
{"f":333,"a":188,"b":185,"c":186,"d":215,"e":212,"g":203,"h":457,"i":498,"j":480},
{"f":334,"a":190,"b":190,"c":182,"d":217,"e":159,"g":199,"h":459,"i":515,"j":468},
{"f":335,"a":192,"b":187,"c":190,"d":219,"e":218,"g":207,"h":462,"i":505,"j":485},
{"f":336,"a":195,"b":195,"c":185,"d":221,"e":214,"g":202,"h":465,"i":525,"j":472},
{"f":337,"a":200,"b":193,"c":193,"d":224,"e":222,"g":210,"h":469,"i":510,"j":490},
{"f":338,"a":201,"b":198,"c":188,"d":226,"e":217,"g":206,"h":472,"i":530,"j":478},
{"f":339,"a":203,"b":196,"c":133,"d":230,"e":228,"g":214,"h":476,"i":520,"j":583},
{"f":340,"a":204,"b":202,"c":195,"d":235,"e":220,"g":210,"h":480,"i":583,"j":470},
{"f":341,"a":215,"b":200,"c":190,"d":240,"e":225,"g":218,"h":484,"i":465,"j":520},
{"f":342,"a":220,"b":195,"c":205,"d":246,"e":234,"g":212,"h":488,"i":465,"j":610},
{"f":343,"a":226,"b":210,"c":198,"d":252,"e":230,"g":176,"h":492,"i":465,"j":540},
{"f":344,"a":230,"b":205,"c":210,"d":258,"e":238,"g":222,"h":496,"i":465,"j":555},
{"f":345,"a":235,"b":198,"c":200,"d":264,"e":233,"g":228,"h":502,"i":465,"j":520},
{"f":346,"a":240,"b":215,"c":307,"d":270,"e":245,"g":257,"h":510,"i":465,"j":545},
{"f":347,"a":243,"b":208,"c":187,"d":278,"e":240,"g":234,"h":530,"i":583,"j":500},
{"f":348,"a":246,"b":220,"c":230,"d":288,"e":250,"g":240,"h":550,"i":560,"j":468},
{"f":349,"a":250,"b":212,"c":243,"d":296,"e":171,"g":229,"h":565,"i":600,"j":600},
{"f":350,"a":255,"b":225,"c":215,"d":303,"e":349,"g":245,"h":578,"i":650,"j":620},
{"f":351,"a":259,"b":218,"c":250,"d":310,"e":183,"g":250,"h":600,"i":700,"j":640},
{"f":352,"a":265,"b":307,"c":205,"d":320,"e":260,"g":265,"h":619,"i":755,"j":580},
{"f":353,"a":271,"b":228,"c":220,"d":330,"e":349,"g":293,"h":645,"i":755,"j":700},
{"f":354,"a":285,"b":215,"c":240,"d":340,"e":250,"g":280,"h":670,"i":755,"j":680},
{"f":355,"a":305,"b":222,"c":230,"d":352,"e":230,"g":156,"h":690,"i":755,"j":720},
{"f":356,"a":320,"b":218,"c":260,"d":360,"e":257,"g":243,"h":755,"i":755,"j":925},
{"f":357,"a":333,"b":226,"c":181,"d":368,"e":257,"g":243,"h":800,"i":1000,"j":930},
{"f":358,"a":340,"b":220,"c":210,"d":374,"e":257,"g":243,"h":837,"i":1200,"j":880},
{"f":359,"a":347,"b":215,"c":245,"d":420,"e":257,"g":260,"h":860,"i":1200,"j":1020},
{"f":360,"a":350,"b":350,"c":265,"d":460,"e":257,"g":399,"h":891,"i":1200,"j":900},
{"f":361,"a":355,"b":350,"c":250,"d":481,"e":257,"g":385,"h":930,"i":755,"j":1068},
{"f":362,"a":549,"b":350,"c":245,"d":483,"e":570,"g":382,"h":990,"i":755,"j":864}
]},
"vconcat": [
 {
  "width": 832, "height": 356,
  "transform": [{"fold": ["a", "b", "c"], "as": ["k", "v"]}],
  "mark": {"type": "line", "strokeWidth": 2, "clip": true},
  "encoding": {
   "x": {"field": "f", "type": "quantitative", "scale": {"domain": [0.5, 362.5], "nice": false, "zero": false}, "axis": null},
   "y": {"field": "v", "type": "quantitative", "scale": {"domain": [0, 600], "nice": false}, "axis": {"values": [0, 100, 200, 300, 400, 500, 600], "title": "Milksolids ('000 kg) per farm", "titleFontSize": 25, "labelFontSize": 24, "tickSize": 7, "labelPadding": 13, "titlePadding": 12, "grid": true}},
   "color": {"field": "k", "type": "nominal", "scale": {"domain": ["a", "b", "c"], "range": ["#000080", "#FF00FF", "#00FFFF"]}, "legend": null}
  }
 },
 {
  "width": 832, "height": 359,
  "transform": [{"fold": ["d", "e", "g"], "as": ["k", "v"]}],
  "mark": {"type": "line", "strokeWidth": 2, "clip": true},
  "encoding": {
   "x": {"field": "f", "type": "quantitative", "scale": {"domain": [0.5, 362.5], "nice": false, "zero": false}, "axis": null},
   "y": {"field": "v", "type": "quantitative", "scale": {"domain": [0, 600], "nice": false}, "axis": {"values": [0, 100, 200, 300, 400, 500, 600], "title": "Farm size (ha)", "titleFontSize": 25, "labelFontSize": 24, "tickSize": 7, "labelPadding": 13, "titlePadding": 10, "grid": true}},
   "color": {"field": "k", "type": "nominal", "scale": {"domain": ["d", "e", "g"], "range": ["#000080", "#FF00FF", "#00FFFF"]}, "legend": null}
  }
 },
 {
  "width": 834, "height": 340,
  "transform": [{"fold": ["h", "i", "j"], "as": ["k", "v"]}],
  "mark": {"type": "line", "strokeWidth": 2, "clip": true},
  "encoding": {
   "x": {"field": "f", "type": "quantitative", "scale": {"domain": [0.5, 362.5], "nice": false, "zero": false}, "axis": {"title": "Farms", "titleFontSize": 27, "labelFontSize": 26, "tickCount": 400, "labelExpr": "(datum.value - 1) % 24 == 0 ? datum.label : ''", "labelOverlap": false, "labelFlush": false, "grid": false, "domain": false, "tickSize": 8, "labelPadding": 19, "titlePadding": 25}},
   "y": {"field": "v", "type": "quantitative", "scale": {"domain": [0, 1400], "nice": false}, "axis": {"values": [0, 200, 400, 600, 800, 1000, 1200, 1400], "format": "d", "title": "Number of cows per farm", "titleFontSize": 29, "labelFontSize": 20, "tickSize": 7, "labelPadding": 7, "titlePadding": 4, "grid": true}},
   "color": {"field": "k", "type": "nominal", "scale": {"domain": ["h", "i", "j"], "range": ["#000080", "#FF00FF", "#00FFFF"]}, "legend": {"orient": "none", "legendX": 99, "legendY": 468, "direction": "horizontal", "title": null, "symbolType": "stroke", "symbolSize": 2500, "symbolStrokeWidth": 2, "labelFontSize": 26, "labelFont": "Liberation Sans", "labelColor": "#000", "labelOffset": 6, "columnPadding": 10, "padding": 0, "labelExpr": "datum.label == 'h' ? 'Real' : datum.label == 'i' ? 'Single' : 'Multiple'"}}
  }
 }
]
}
